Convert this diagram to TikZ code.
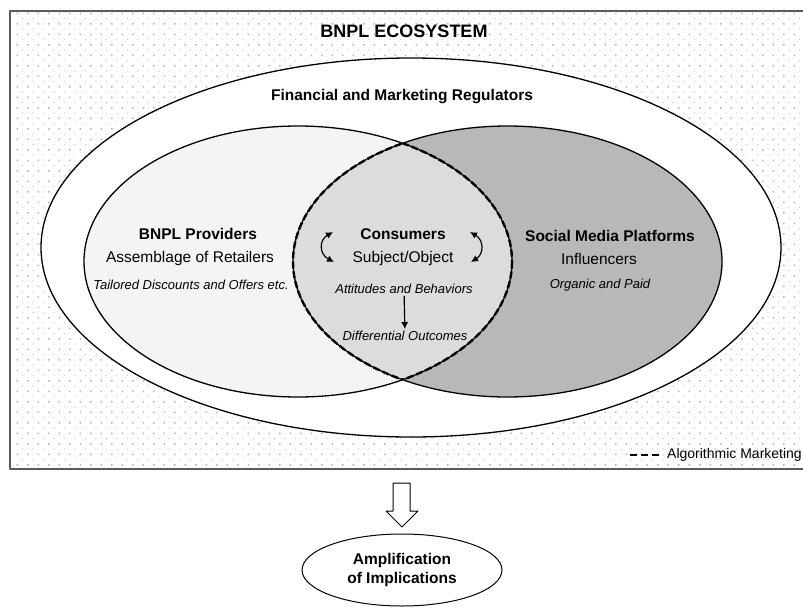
\documentclass[tikz,border=0pt]{standalone}
\usepackage{fontspec}
\setmainfont{Liberation Sans}
\usetikzlibrary{arrows.meta,shapes.geometric}
\definecolor{leftfill}{HTML}{F3F4F6}
\definecolor{rightfill}{HTML}{B8B8B8}
\definecolor{lensfill}{HTML}{DCDCDC}
\definecolor{framecol}{HTML}{5A5A5A}
\definecolor{dotdark}{HTML}{B4B4B4}
\definecolor{dotlight}{HTML}{D2D2D2}
\tikzset{
  titletext/.style={font=\fontsize{18}{21}\selectfont\bfseries, inner sep=1pt},
  boldtext/.style={font=\fontsize{15.5}{19}\selectfont\bfseries, inner sep=1pt},
  regtext/.style={font=\fontsize{15.5}{19}\selectfont, inner sep=1pt},
  itatext/.style={font=\fontsize{13}{16}\selectfont\itshape, inner sep=2pt},
  legtext/.style={font=\fontsize{14}{16}\selectfont, inner sep=1pt},
  ringline/.style={line width=1.3pt, black},
  lensdash/.style={line width=2.4pt, black, dash pattern=on 7pt off 3pt},
  smallhead/.style={{Latex[length=7pt,width=7pt]}-{Latex[length=7pt,width=7pt]}, line width=1.2pt},
}
\begin{document}
\begin{tikzpicture}[x=1pt,y=-1pt,line join=round]
\useasboundingbox (0,0) rectangle (803,608);
% dotted background
\begin{scope}
\clip (10,11) rectangle (810,469);
\foreach \j in {0,...,43}{
  \fill[dotdark] \foreach \i in {0,...,76}{ ({16.6+10.5*\i},{12.6+10.5*\j}) rectangle ++(1.5,1.5) };
  \fill[dotlight] \foreach \i in {0,...,76}{ ({21.9+10.5*\i},{17.9+10.5*\j}) rectangle ++(1.3,1.3) };
}
\end{scope}
\draw[framecol, line width=1.5pt] (10,11) rectangle (812,469);
% outer ellipse
\draw[ringline, fill=white] (411,247.5) ellipse [x radius=370, y radius=189.5];
% inner ellipses
\fill[leftfill] (298,261.5) ellipse [x radius=214, y radius=135.5];
\fill[rightfill] (507.5,261.5) ellipse [x radius=214.5, y radius=135.5];
\begin{scope}
\clip (298,261.5) ellipse [x radius=214, y radius=135.5];
\fill[lensfill] (507.5,261.5) ellipse [x radius=214.5, y radius=135.5];
\end{scope}
\draw[ringline] (298,261.5) ellipse [x radius=214, y radius=135.5];
\draw[ringline] (507.5,261.5) ellipse [x radius=214.5, y radius=135.5];
\begin{scope}
\clip (298,261.5) ellipse [x radius=214, y radius=135.5];
\draw[lensdash] (507.5,261.5) ellipse [x radius=214.5, y radius=135.5];
\end{scope}
\begin{scope}
\clip (507.5,261.5) ellipse [x radius=214.5, y radius=135.5];
\draw[lensdash] (298,261.5) ellipse [x radius=214, y radius=135.5];
\end{scope}
% texts
\node[titletext] (eco) at (404,31) {BNPL ECOSYSTEM};
\node[boldtext] (reg) at (402,97) {Financial and Marketing Regulators};
\node[boldtext] (bnpl) at (198,234) {BNPL Providers};
\node[regtext] (assm) at (190,258) {Assemblage of Retailers};
\node[itatext] (tail) at (191,285) {Tailored Discounts and Offers etc.};
\node[boldtext] (smp) at (610,236) {Social Media Platforms};
\node[regtext] (infl) at (599,259) {Influencers};
\node[itatext] (org) at (600,285) {Organic and Paid};
\node[boldtext] (cons) at (403,234) {Consumers};
\node[regtext] (subj) at (403,258) {Subject/Object};
\node[itatext] (att) at (404,289) {Attitudes and Behaviors};
\node[itatext] (diff) at (405,336) {Differential Outcomes};
\draw[-{Latex[length=7pt,width=7pt]}, line width=1.2pt] (att) -- (diff);
% cycling arrows
\coordinate (la1) at (333,232);
\coordinate (la2) at (334,262);
\coordinate (ra1) at (470,232);
\coordinate (ra2) at (471,262);
\draw[smallhead] (la1) .. controls (319,240) and (319,254) .. (la2);
\draw[smallhead] (ra1) .. controls (484,240) and (484,254) .. (ra2);
% legend
\coordinate (lg1) at (630,455);
\coordinate (lg2) at (663,455);
\draw[line width=1.3pt, dash pattern=on 7pt off 4pt] (lg1) -- (lg2);
\node[legtext, anchor=west] (leg) at (666,455) {Algorithmic Marketing};
% block arrow
\draw[line width=1pt, fill=white] (393,483) -- (410,483) -- (410,511) -- (418,511) -- (402,527) -- (386,511) -- (393,511) -- cycle;
% result ellipse
\node[draw, ellipse, line width=1pt, minimum width=200pt, minimum height=72pt, align=center,
      font=\fontsize{15.5}{19}\selectfont\bfseries, inner sep=0pt] (amp) at (402,570) {Amplification\\of Implications};
\end{tikzpicture}
\end{document}
